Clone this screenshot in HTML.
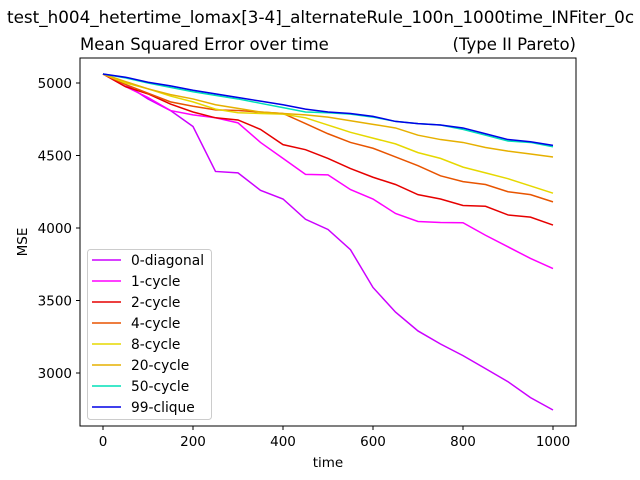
<!DOCTYPE html>
<html><head><meta charset="utf-8"><style>
body{margin:0;background:#fff;}
svg{display:block;font-family:"DejaVu Sans","Liberation Sans",sans-serif;}
</style></head><body>
<svg id="chart" width="640" height="480" viewBox="0 0 640 480">
<text x="7" y="23" font-size="16.8" fill="#000">test_h004_hetertime_lomax[3-4]_alternateRule_100n_1000time_INFiter_0c</text>
<text x="80" y="50" font-size="16.5" fill="#000">Mean Squared Error over time</text>
<text x="576" y="50" font-size="16.5" text-anchor="end" fill="#000">(Type II Pareto)</text>
<g id="plot"></g>
<rect x="80" y="58" width="496" height="368" fill="none" stroke="#000" stroke-width="1"/>
<text x="328" y="467" font-size="13.5" text-anchor="middle">time</text>
<text x="27" y="242" font-size="13.5" text-anchor="middle" transform="rotate(-90 27 242)">MSE</text>
<g id="legend"></g>
</svg>
<script>
const times=[0,50,100,150,200,250,300,350,400,450,500,550,600,650,700,750,800,850,900,950,1000];
const seriesNames=["0-diagonal","1-cycle","2-cycle","4-cycle","8-cycle","20-cycle","50-cycle","99-clique"];
const s0=[5062,4990,4890,4810,4700,4390,4380,4260,4200,4060,3990,3850,3590,3420,3290,3200,3120,3030,2940,2830,2745];
const s1=[5062,4975,4900,4810,4780,4760,4725,4590,4480,4370,4366,4265,4200,4100,4045,4038,4036,3950,3870,3790,3720];
const s2=[5062,4975,4925,4855,4800,4760,4745,4680,4575,4540,4480,4410,4350,4300,4230,4200,4155,4150,4090,4075,4020];
const s4=[5062,4990,4930,4870,4840,4815,4810,4800,4790,4720,4650,4590,4550,4490,4430,4360,4320,4300,4250,4230,4180];
const s8=[5062,5000,4960,4910,4870,4820,4795,4790,4785,4760,4710,4660,4620,4580,4520,4480,4420,4380,4340,4290,4240];
const s20=[5062,5010,4960,4920,4890,4850,4825,4800,4790,4780,4765,4740,4715,4690,4640,4610,4590,4555,4530,4510,4490];
const s50=[5062,5035,5000,4970,4940,4915,4890,4860,4830,4800,4795,4785,4765,4735,4720,4710,4680,4640,4600,4590,4560];
const s99=[5062,5040,5005,4980,4950,4925,4900,4875,4850,4820,4800,4790,4770,4735,4720,4710,4690,4650,4610,4595,4570];
const xTicks=[0,200,400,600,800,1000];
const yTicks=[3000,3500,4000,4500,5000];
const allSeries=[s0,s1,s2,s4,s8,s20,s50,s99];
const colors=["#cc00ff","#ff00ff","#e60000","#e85400","#e6d800","#e6b000","#00e0b8","#0000e6"];
const NS="http://www.w3.org/2000/svg";
function xs(t){return 103+t*0.45;}
function ys(v){return 83+(5000-v)*0.145;}
const plot=document.getElementById('plot');
const svg=document.getElementById('chart');
xTicks.forEach(t=>{
 const l=document.createElementNS(NS,'line');
 
 
 l.setAttribute('x1',xs(t));l.setAttribute('x2',xs(t));l.setAttribute('y1',426);l.setAttribute('y2',430);l.setAttribute('stroke','#000');
 svg.appendChild(l);
 const tx=document.createElementNS(NS,'text');
 
 
 tx.setAttribute('x',xs(t));tx.setAttribute('y',446);tx.setAttribute('font-size','13.5');tx.setAttribute('text-anchor','middle');
 tx.textContent=t;svg.appendChild(tx);
});
yTicks.forEach(v=>{
 const l=document.createElementNS(NS,'line');
 
 
 l.setAttribute('x1',76);l.setAttribute('x2',80);l.setAttribute('y1',ys(v));l.setAttribute('y2',ys(v));l.setAttribute('stroke','#000');
 svg.appendChild(l);
 const tx=document.createElementNS(NS,'text');
 
 
 tx.setAttribute('x',72);tx.setAttribute('y',ys(v)+5);tx.setAttribute('font-size','13.5');tx.setAttribute('text-anchor','end');
 tx.textContent=v;svg.appendChild(tx);
});
allSeries.forEach((s,i)=>{
 const p=document.createElementNS(NS,'polyline');
 
 
 p.setAttribute('points',s.map((v,j)=>xs(times[j])+','+ys(v)).join(' '));
 p.setAttribute('fill','none');p.setAttribute('stroke',colors[i]);p.setAttribute('stroke-width','1.5');
 plot.appendChild(p);
});
const lg=document.getElementById('legend');
const box=document.createElementNS(NS,'rect');


box.setAttribute('x',87.5);box.setAttribute('y',249.5);box.setAttribute('width',124);box.setAttribute('height',170);box.setAttribute('rx',3);
box.setAttribute('fill','#fff');box.setAttribute('fill-opacity','0.8');box.setAttribute('stroke','#ccc');
lg.appendChild(box);
seriesNames.forEach((n,i)=>{
 const y=260+i*21;
 const l=document.createElementNS(NS,'line');
 
 
 l.setAttribute('x1',92);l.setAttribute('x2',121);l.setAttribute('y1',y);l.setAttribute('y2',y);l.setAttribute('stroke',colors[i]);l.setAttribute('stroke-width','1.5');
 lg.appendChild(l);
 const t=document.createElementNS(NS,'text');
 
 
 t.setAttribute('x',131);t.setAttribute('y',y+5);t.setAttribute('font-size','13.8');
 t.textContent=n;lg.appendChild(t);
});
</script>
</body></html>
